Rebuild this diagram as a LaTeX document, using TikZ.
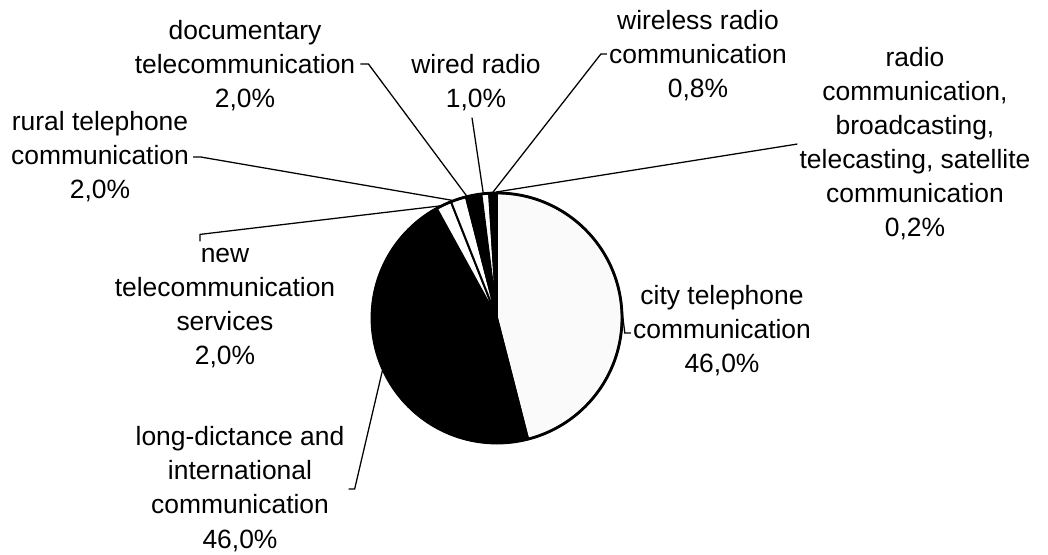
\documentclass[tikz,border=0pt]{standalone}
\usepackage{fontspec}
\setmainfont{Liberation Sans}
\usetikzlibrary{calc}

\begin{document}
\begin{tikzpicture}[x=0.025cm, y=0.025cm,
  font=\fontsize{18.8}{24.2}\selectfont,
  every node/.style={align=center, inner sep=0pt},
  slice/.style={draw=black, line width=1.4pt, line join=round},
  leader/.style={draw=black, line width=0.9pt}]

\useasboundingbox (0,0) rectangle (1048,554);

% pie centre, radius 125
\coordinate (O) at (497,236);

% slices, clockwise from 12 o'clock
\begin{scope}[shift={(O)}]
\draw[slice, fill=gray!4] (0,0) -- (90:125) arc (90:-75.6:125) -- cycle; % city
\draw[slice, fill=black] (0,0) -- (-75.6:125) arc (-75.6:-241.2:125) -- cycle; % long-distance
\draw[slice, fill=white] (0,0) -- (118.8:125) arc (118.8:111.6:125) -- cycle; % new services
\draw[slice, fill=white] (0,0) -- (111.6:125) arc (111.6:104.4:125) -- cycle; % rural
\draw[slice, fill=black] (0,0) -- (104.4:125) arc (104.4:97.2:125) -- cycle; % documentary
\draw[slice, fill=white] (0,0) -- (97.2:125) arc (97.2:93.6:125) -- cycle; % wired radio
\draw[slice, fill=black] (0,0) -- (93.6:125) arc (93.6:90.72:125) -- cycle; % wireless
\draw[slice, fill=white] (0,0) -- (90.72:125) arc (90.72:90:125) -- cycle; % radio, tv
\end{scope}
\draw[line width=2pt] (O) circle (125);

% labels (base = last line)
\node[anchor=base] (doc) at (245,446) {documentary\\telecommunication\\2,0\%};
\node[anchor=base] (wired) at (476,446) {wired radio\\1,0\%};
\node[anchor=base] (wireless) at (698,456) {wireless radio\\communication\\0,8\%};
\node[anchor=base] (radio) at (915,317) {radio\\communication,\\broadcasting,\\telecasting, satellite\\communication\\0,2\%};
\node[anchor=base] (rural) at (100,355) {rural telephone\\communication\\2,0\%};
\node[anchor=base] (newtel) at (225,189) {new\\telecommunication\\services\\2,0\%};
\node[anchor=base] (city) at (722,181) {city telephone\\communication\\46,0\%};
\node[anchor=base] (long) at (240,6) {long-dictance and\\international\\communication\\46,0\%};

% points on the rim
\coordinate (docE) at ([shift={(104:126)}]O);
\coordinate (wiredE) at ([shift={(96.3:126)}]O);
\coordinate (wirelessE) at ([shift={(91.8:126)}]O);
\coordinate (radioE) at ([shift={(90.4:126)}]O);
\coordinate (ruralE) at ([shift={(110.9:126)}]O);
\coordinate (newtelE) at ([shift={(116:125)}]O);
\coordinate (cityE) at ([shift={(7.2:125)}]O);
\coordinate (longE) at ([shift={(204.6:126)}]O);

% leader lines
\draw[leader] ($(doc.east)+(5,2)$) -- ($(doc.east)+(13,2)$) -- (docE);
\draw[leader] ($(wired.south)+(-4,-6)$) -- (wiredE);
\draw[leader] (wirelessE) -- ($(wireless.west)+(-8,2)$) -- ($(wireless.west)+(-2,2)$);
\draw[leader] (radioE) -- ($(radio.west)+(-2,0)$);
\draw[leader] (ruralE) -- ($(rural.east)+(12,0)$) -- ($(rural.east)+(4,0)$);
\draw[leader] (newtelE) -- ($(newtel.north)+(-25,14)$) -- ($(newtel.north)+(-25,7)$);
\draw[leader] (cityE) -- ($(city.west)+(-8,-2)$) -- ($(city.west)+(-2,-2)$);
\draw[leader] (longE) -- ($(long.east)+(10,0)$) -- ($(long.east)+(4,0)$);

\end{tikzpicture}
\end{document}
